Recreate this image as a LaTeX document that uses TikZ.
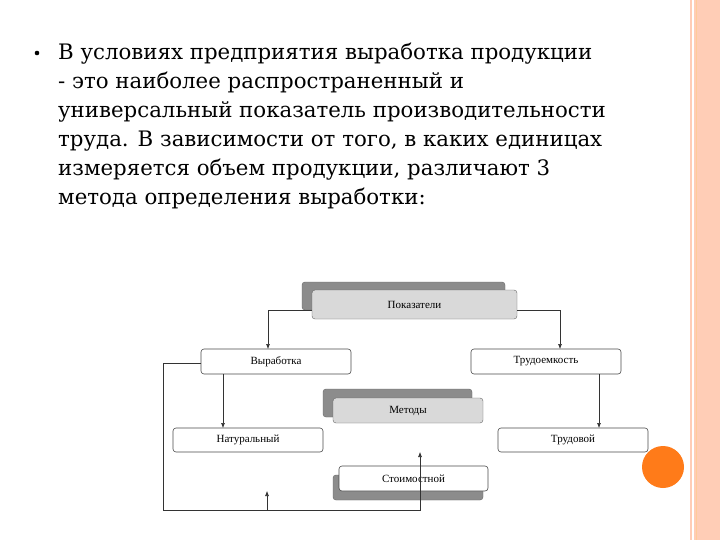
\documentclass[tikz,border=0pt]{standalone}
\usepackage{fontspec}
\setmainfont{DejaVu Serif}
\newfontfamily\dfont{Liberation Serif}
\usetikzlibrary{arrows.meta}
\begin{document}
\begin{tikzpicture}[x=1pt,y=-1pt,
  box/.style={draw=black!70,rounded corners=3pt,fill=white,line width=0.6pt},
  shd/.style={draw=black!60,rounded corners=3pt,fill=black!45},
  lgt/.style={draw=black!60,rounded corners=3pt,fill=black!15},
  lab/.style={font=\dfont\fontsize{11}{12}\selectfont},
  con/.style={draw=black!80,line width=0.6pt},
  arr/.style={con,-{Latex[length=5pt,width=4pt]}},
  ln/.style={font=\fontsize{21.3}{24}\selectfont,anchor=base west,inner sep=0pt}]
\useasboundingbox (0,0) rectangle (720,540);
\fill[white] (0,0) rectangle (720,540);
% right strip
\fill[orange!30!pink!60] (690,0) rectangle (720,540);
\fill[white] (692,0) rectangle (694,540);
\draw[orange!40,line width=1pt] (696,0) -- (696,540);
% bullet
\fill (37,53) circle (2.3);
\node[ln] (l1) at (58,60) {В условиях предприятия выработка продукции};
\node[ln] (l2) at (58,89) {- это наиболее распространенный и};
\node[ln] (l3) at (58,118) {универсальный показатель производительности};
\node[ln] (l4) at (58,147) {труда. В зависимости от того, в каких единицах};
\node[ln] (l5) at (58,176) {измеряется объем продукции, различают 3};
\node[ln] (l6) at (58,205) {метода определения выработки:};
% boxes
\draw[shd] (302,282) rectangle (505,310);
\draw[lgt] (312,290) rectangle (517,319);
\node[lab] (pok) at (414.5,304.5) {Показатели};
\draw[box] (201,349) rectangle (351,374); \node[lab] (vyr) at (276,361.5) {Выработка};
\draw[box] (471,349) rectangle (621,374); \node[lab] (tre) at (546,361.5) {Трудоемкость};
\draw[shd] (323,389) rectangle (472,417);
\draw[lgt] (333,398) rectangle (483,423);
\node[lab] (met) at (408,410.5) {Методы};
\draw[box] (173,428) rectangle (323,452); \node[lab] (nat) at (248,440) {Натуральный};
\draw[box] (498,428) rectangle (648,452); \node[lab] (trd) at (573,440) {Трудовой};
\draw[shd] (333,475) rectangle (483,500);
\draw[box] (339,466) rectangle (488,491); \node[lab] (sto) at (413.5,478.5) {Стоимостной};
% connectors
\coordinate (a1) at (312,310); \coordinate (a2) at (268,310); \coordinate (a3) at (268,349);
\draw[arr] (a1) -- (a2) -- (a3);
\coordinate (b1) at (517,310); \coordinate (b2) at (560,310); \coordinate (b3) at (560,349);
\draw[arr] (b1) -- (b2) -- (b3);
\coordinate (c1) at (223,374); \coordinate (c2) at (223,428);
\draw[arr] (c1) -- (c2);
\coordinate (d1) at (599,374); \coordinate (d2) at (599,428);
\draw[arr] (d1) -- (d2);
\coordinate (e1) at (201,363); \coordinate (e2) at (163,363); \coordinate (e3) at (163,510);
\coordinate (e4) at (420,510); \coordinate (e5) at (420,452);
\draw[arr] (e1) -- (e2) -- (e3) -- (e4) -- (e5);
\coordinate (f1) at (267,510); \coordinate (f2) at (267,491);
\draw[arr] (f1) -- (f2);
% orange circle
\fill[orange!85!red!90] (663,467) circle (21);
\end{tikzpicture}
\end{document}
